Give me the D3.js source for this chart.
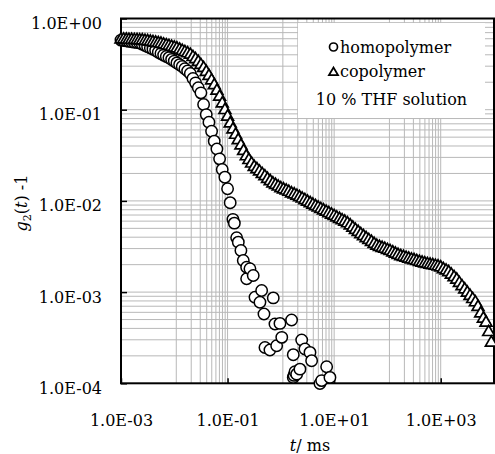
<!DOCTYPE html>
<html>
<head>
<meta charset="utf-8">
<script src="https://cdn.jsdelivr.net/npm/d3@7"></script>
<style>
  body { margin: 0; background: #fff; }
  svg { display: block; font-family: "DejaVu Serif", serif; }
</style>
</head>
<body>
<div id="chart"></div>
<script>
// Correlator lag times (ms) and g2(t)-1 values
const copolymerT = [
  1.00e-3, 1.12e-3, 1.26e-3, 1.41e-3, 1.58e-3, 1.78e-3, 2.00e-3, 2.24e-3, 2.51e-3, 2.82e-3,
  3.16e-3, 3.55e-3, 3.98e-3, 4.47e-3, 5.01e-3, 5.62e-3, 6.31e-3, 7.08e-3, 7.94e-3, 8.91e-3,
  1.00e-2, 1.12e-2, 1.26e-2, 1.41e-2, 1.58e-2, 1.78e-2, 2.00e-2, 2.24e-2, 2.51e-2, 2.82e-2,
  3.16e-2, 3.55e-2, 3.98e-2, 4.47e-2, 5.01e-2, 5.62e-2, 6.31e-2, 7.08e-2, 7.94e-2, 8.91e-2,
  1.00e-1, 1.12e-1, 1.26e-1, 1.41e-1, 1.58e-1, 1.78e-1, 2.00e-1, 2.24e-1, 2.51e-1, 2.82e-1,
  3.16e-1, 3.55e-1, 3.98e-1, 4.47e-1, 5.01e-1, 5.62e-1, 6.31e-1, 7.08e-1, 7.94e-1, 8.91e-1,
  1.00, 1.12, 1.26, 1.41, 1.58, 1.78, 2.00, 2.24, 2.51, 2.82,
  3.16, 3.55, 3.98, 4.47, 5.01, 5.62, 6.31, 7.08, 7.94, 8.91,
  10.0, 11.2, 12.6, 14.1, 15.8, 17.8, 20.0, 22.4, 25.1, 28.2,
  31.6, 35.5, 39.8, 44.7, 50.1, 56.2, 63.1, 70.8, 79.4, 89.1,
  100, 112, 126, 141, 158, 178, 200, 224, 251, 282,
  316, 355, 398, 447, 501, 562, 631, 708, 794, 891,
  1000, 1120, 1260, 1410, 1580, 1780, 2000, 2240, 2510, 2820,
  3160, 3550, 3980, 4470, 5010, 5620, 6310, 7080, 7940, 8910
];
const copolymerG = [
  0.595, 0.594, 0.592, 0.589, 0.588, 0.586, 0.585, 0.582, 0.580, 0.574,
  0.569, 0.562, 0.555, 0.549, 0.542, 0.534, 0.523, 0.513, 0.504, 0.494,
  0.484, 0.474, 0.460, 0.446, 0.432, 0.419, 0.404, 0.381, 0.361, 0.337,
  0.312, 0.289, 0.262, 0.237, 0.211, 0.187, 0.163, 0.140, 0.118, 0.100,
  0.0848, 0.0714, 0.0614, 0.0535, 0.0467, 0.0409, 0.0357, 0.0311, 0.0283, 0.0259,
  0.0238, 0.0225, 0.0212, 0.0199, 0.0188, 0.0176, 0.0166, 0.0157, 0.0151, 0.0145,
  0.0139, 0.0135, 0.0131, 0.0127, 0.0122, 0.0119, 0.0115, 0.0111, 0.0107, 0.0103,
  0.00990, 0.00953, 0.00918, 0.00884, 0.00853, 0.00823, 0.00794, 0.00767, 0.00740, 0.00714,
  0.00689, 0.00664, 0.00641, 0.00618, 0.00597, 0.00573, 0.00543, 0.00514, 0.00486, 0.00461,
  0.00436, 0.00414, 0.00394, 0.00376, 0.00358, 0.00341, 0.00325, 0.00316, 0.00308, 0.00301,
  0.00292, 0.00285, 0.00275, 0.00266, 0.00258, 0.00250, 0.00245, 0.00240, 0.00235, 0.00230,
  0.00226, 0.00221, 0.00216, 0.00212, 0.00208, 0.00205, 0.00202, 0.00199, 0.00196, 0.00193,
  0.00188, 0.00180, 0.00174, 0.00167, 0.00157, 0.00147, 0.00138, 0.00127, 0.00117, 0.00108,
  0.000995, 0.000918, 0.000846, 0.000780, 0.000695, 0.000589, 0.000517, 0.000466, 0.000368, 0.000282
];

const homopolymerT = [
  1.00e-3, 1.12e-3, 1.26e-3, 1.41e-3, 1.58e-3, 1.78e-3, 2.00e-3, 2.24e-3, 2.51e-3, 2.82e-3,
  3.16e-3, 3.55e-3, 3.98e-3, 4.47e-3, 5.01e-3, 5.62e-3, 6.31e-3, 7.08e-3, 7.94e-3, 8.91e-3,
  1.00e-2, 1.12e-2, 1.26e-2, 1.41e-2, 1.58e-2, 1.78e-2, 2.00e-2, 2.24e-2, 2.51e-2, 2.82e-2,
  3.16e-2, 3.55e-2, 3.98e-2, 4.47e-2, 5.01e-2, 5.62e-2, 6.31e-2, 7.08e-2, 7.94e-2, 8.91e-2,
  1.00e-1, 1.12e-1, 1.26e-1,
  0.134, 0.148, 0.159, 0.178, 0.197, 0.228, 0.228, 0.263, 0.303, 0.327,
  0.405, 0.436, 0.482, 0.503, 0.624, 0.720, 0.775, 0.834, 0.962, 1.04,
  1.59, 1.71, 1.71, 1.77, 1.84, 1.98, 2.28, 2.46, 2.83, 3.52,
  3.78, 5.42, 5.83, 7.23, 8.34
];
const homopolymerG = [
  0.580, 0.574, 0.569, 0.562, 0.556, 0.550, 0.545, 0.538, 0.523, 0.508,
  0.491, 0.476, 0.461, 0.447, 0.427, 0.412, 0.397, 0.383, 0.372, 0.356,
  0.341, 0.326, 0.312, 0.298, 0.281, 0.266, 0.249, 0.220, 0.197, 0.174,
  0.153, 0.114, 0.0884, 0.0729, 0.0580, 0.0452, 0.0371, 0.0289, 0.0221, 0.0182,
  0.0136, 0.00956, 0.00628,
  0.00570, 0.00394, 0.00353, 0.00286, 0.00222, 0.00187, 0.00140, 0.00180, 0.00152, 0.000877,
  0.000773, 0.00104, 0.000576, 0.000247, 0.000232, 0.000864, 0.000447, 0.000258, 0.000454, 0.000319,
  0.000495, 0.000206, 0.000116, 0.000122, 0.000134, 0.000126, 0.000143, 0.000298, 0.000238, 0.000218,
  0.000177, 0.0000995, 0.000107, 0.000152, 0.000116
];

const xTicks = [1e-3, 1e-1, 1e1, 1e3];
const yTicks = [1e0, 1e-1, 1e-2, 1e-3, 1e-4];
const seriesNames = ['homopolymer', 'copolymer'];
const legendNote = '10 % THF solution';

const width = 495, height = 454;
const plot = { left: 121, right: 494, top: 18.5, bottom: 383.3 };

const svg = d3.select('#chart').append('svg')
  .attr('width', width)
  .attr('height', height);

const x = d3.scaleLog().domain([1e-3, 1e4]).range([plot.left, plot.right]);
const y = d3.scaleLog().domain([1e-4, 1]).range([plot.bottom, plot.top]);

// exponent label like the spreadsheet: 1.0E-03
const sciFmt = v => {
  const e = Math.round(Math.log10(v));
  const sign = e < 0 ? '-' : '+';
  return '1.0E' + sign + String(Math.abs(e)).padStart(2, '0');
};

// gridlines
const grid = svg.append('g').attr('stroke', '#b8b8b8').attr('stroke-width', 1);

const yGrid = y.ticks().filter(v => v > 1e-4 && v < 1);
grid.selectAll('.gy').data(yGrid).join('line')
  .attr('x1', plot.left).attr('x2', plot.right)
  .attr('y1', d => y(d)).attr('y2', d => y(d));

// x axis uses base-100 majors, minor lines split each major step in ten
const xGrid = [];
xTicks.forEach(m => {
  if (m > 1e-3) xGrid.push(m);
  const next = m * 100;
  for (let k = 1; k < 10; k++) {
    const v = m + k * (next - m) / 10;
    if (v < 1e4) xGrid.push(v);
  }
});
grid.selectAll('.gx').data(xGrid).join('line')
  .attr('y1', plot.top).attr('y2', plot.bottom)
  .attr('x1', d => x(d)).attr('x2', d => x(d));

// legend box sits over the grid
svg.append('rect')
  .attr('x', 298).attr('y', 23)
  .attr('width', 187).attr('height', 95)
  .attr('fill', '#fff');

// axes
const yAxis = svg.append('g')
  .attr('transform', `translate(${plot.left},0)`)
  .call(d3.axisLeft(y).tickValues(yTicks).tickFormat(sciFmt)
    .tickSize(-6).tickSizeOuter(0).tickPadding(19));
yAxis.select('.domain').remove();
yAxis.selectAll('line').attr('stroke', '#000').attr('stroke-width', 1.5);
yAxis.selectAll('text')
  .attr('dy', '0.62em')
  .style('font-size', '16px')
  .style('font-family', '"DejaVu Serif", serif')
  .attr('fill', '#000');

const xAxis = svg.append('g')
  .attr('transform', `translate(0,${plot.bottom})`)
  .call(d3.axisBottom(x).tickValues(xTicks).tickFormat(sciFmt)
    .tickSize(-5).tickSizeOuter(0).tickPadding(31));
xAxis.select('.domain').remove();
xAxis.selectAll('line').attr('stroke', '#000').attr('stroke-width', 1.5);
xAxis.selectAll('text')
  .style('font-size', '16px')
  .style('font-family', '"DejaVu Serif", serif')
  .attr('fill', '#000');

// plot frame
svg.append('rect')
  .attr('x', plot.left).attr('y', plot.top)
  .attr('width', plot.right - plot.left)
  .attr('height', plot.bottom - plot.top)
  .attr('fill', 'none')
  .attr('stroke', '#000')
  .attr('stroke-width', 2);

// markers
const homo = d3.zip(homopolymerT, homopolymerG);
const co = d3.zip(copolymerT, copolymerG);
const triPath = 'M0,-6.3L5.9,3.8L-5.9,3.8Z';

svg.append('g').selectAll('circle').data(homo).join('circle')
  .attr('cx', d => x(d[0]))
  .attr('cy', d => y(d[1]))
  .attr('r', 5.7)
  .attr('fill', '#fff')
  .attr('stroke', '#000')
  .attr('stroke-width', 1.5);

svg.append('g').selectAll('path').data(co).join('path')
  .attr('d', triPath)
  .attr('transform', d => `translate(${x(d[0])},${y(d[1])})`)
  .attr('fill', '#fff')
  .attr('stroke', '#000')
  .attr('stroke-width', 1.7);

// legend
const legend = svg.append('g').style('font-size', '16px');
legend.append('circle')
  .attr('cx', 333.5).attr('cy', 47).attr('r', 4)
  .attr('fill', '#fff').attr('stroke', '#000').attr('stroke-width', 1.7);
legend.append('text').attr('x', 340).attr('y', 53).text(seriesNames[0]);
legend.append('path')
  .attr('d', 'M0,-4.5L4.6,3.2L-4.6,3.2Z')
  .attr('transform', 'translate(333.5,72)')
  .attr('fill', '#fff').attr('stroke', '#000').attr('stroke-width', 1.7);
legend.append('text').attr('x', 340).attr('y', 77).text(seriesNames[1]);
legend.append('text').attr('x', 391.5).attr('y', 105)
  .attr('text-anchor', 'middle').text(legendNote);

// axis titles
const xTitle = svg.append('text')
  .attr('x', 310).attr('y', 451)
  .attr('text-anchor', 'middle')
  .style('font-size', '16px');
xTitle.append('tspan').style('font-style', 'italic').text('t');
xTitle.append('tspan').text('/ ms');

const yTitle = svg.append('text')
  .attr('transform', 'translate(27,203) rotate(-90)')
  .attr('text-anchor', 'middle')
  .style('font-size', '16px');
yTitle.append('tspan').style('font-style', 'italic').text('g');
yTitle.append('tspan').attr('dy', 4).style('font-size', '11px').text('2');
yTitle.append('tspan').attr('dy', -4).text('(');
yTitle.append('tspan').style('font-style', 'italic').text('t');
yTitle.append('tspan').text(') -1');
</script>
</body>
</html>
